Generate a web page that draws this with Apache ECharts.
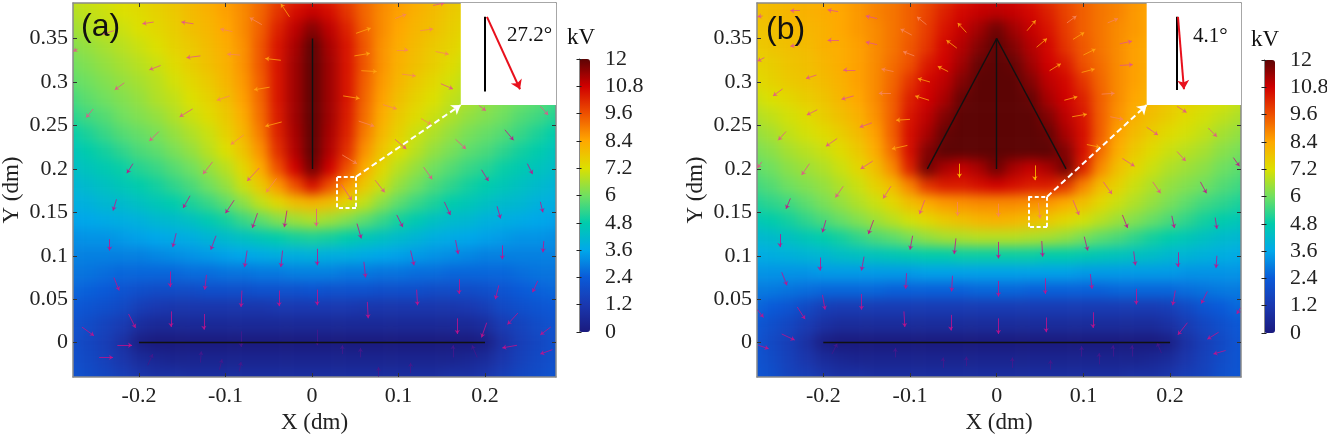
<!DOCTYPE html>
<html>

<head>
  <meta charset="UTF-8">
  <title>Potential maps (a) and (b)</title>
  <style>
    html, body { margin: 0; padding: 0; background: #fff; }
    #page { position: relative; width: 1327px; height: 435px; overflow: hidden; }
    .clip { position: absolute; top: 3px; height: 374px; overflow: hidden; }
    .field { position: absolute; top: -17px; width: 537px; height: 417px; filter: blur(6px); }
    #axes { position: absolute; left: 0; top: 0; width: 1327px; height: 435px; }
  </style>
  <script src="https://cdn.jsdelivr.net/npm/echarts@6/dist/echarts.min.js"></script>
</head>

<body>
  <div id="page">
    <div class="clip" style="left:73px;width:483px"><div class="field" id="field-a" style="left:-29px"></div></div>
    <div class="clip" style="left:757px;width:484px"><div class="field" id="field-b" style="left:-29px"></div></div>
    <div id="axes"></div>
  </div>

  <script>
    var FONT = '"Liberation Serif", serif';

    // cell centres of the potential grid, dm
    var fieldX = ['-0.30','-0.28','-0.26','-0.24','-0.22','-0.20','-0.18','-0.16','-0.14','-0.12','-0.10','-0.08','-0.06','-0.04','-0.02','0',
                  '0.02','0.04','0.06','0.08','0.10','0.12','0.14','0.16','0.18','0.20','0.22','0.24','0.26','0.28','0.30'];
    var fieldY = ['0.40','0.38','0.36','0.34','0.32','0.30','0.28','0.26','0.24','0.22','0.20','0.18','0.16','0.14','0.12','0.10',
                  '0.08','0.06','0.04','0.02','0','-0.02','-0.04','-0.06'];

    // potential in kV, one line per row from the top
    var fieldA = [
      [6.9,7.0,7.1,7.2,7.3,7.5,7.7,7.9,8.1,8.4,8.6,8.9,9.3,9.8,10.2,10.4,10.2,9.8,9.3,8.9,8.6,8.4,8.1,7.9,7.7,7.5,7.3,7.2,7.1,7.0,6.9],
      [6.6,6.7,6.9,7.0,7.2,7.3,7.5,7.7,8.0,8.2,8.5,8.8,9.3,10.0,10.6,10.9,10.6,10.0,9.3,8.8,8.5,8.2,8.0,7.7,7.5,7.3,7.2,7.0,6.9,6.7,6.6],
      [6.3,6.5,6.7,6.9,7.0,7.2,7.4,7.6,7.9,8.1,8.4,8.8,9.4,10.3,11.0,11.6,11.0,10.3,9.4,8.8,8.4,8.1,7.9,7.6,7.4,7.2,7.0,6.9,6.7,6.5,6.3],
      [6.0,6.2,6.4,6.6,6.8,7.0,7.2,7.5,7.7,8.0,8.3,8.7,9.5,10.5,11.2,12,11.2,10.5,9.5,8.7,8.3,8.0,7.7,7.5,7.2,7.0,6.8,6.6,6.4,6.2,6.0],
      [5.8,6.0,6.2,6.4,6.6,6.8,7.0,7.3,7.6,7.9,8.2,8.7,9.5,10.5,11.3,12,11.3,10.5,9.5,8.7,8.2,7.9,7.6,7.3,7.0,6.8,6.6,6.4,6.2,6.0,5.8],
      [5.6,5.8,6.0,6.2,6.4,6.6,6.8,7.1,7.4,7.7,8.1,8.6,9.4,10.5,11.3,12,11.3,10.5,9.4,8.6,8.1,7.7,7.4,7.1,6.8,6.6,6.4,6.2,6.0,5.8,5.6],
      [5.3,5.5,5.8,6.0,6.2,6.4,6.7,6.9,7.2,7.5,7.9,8.5,9.3,10.5,11.3,12,11.3,10.5,9.3,8.5,7.9,7.5,7.2,6.9,6.7,6.4,6.2,6.0,5.8,5.5,5.3],
      [5.0,5.2,5.5,5.7,6.0,6.2,6.4,6.7,7.0,7.3,7.7,8.3,9.2,10.4,11.3,12,11.3,10.4,9.2,8.3,7.7,7.3,7.0,6.7,6.4,6.2,6.0,5.7,5.5,5.2,5.0],
      [4.6,4.8,5.1,5.4,5.7,5.9,6.1,6.4,6.7,7.0,7.5,8.1,9.0,10.3,11.2,12,11.2,10.3,9.0,8.1,7.5,7.0,6.7,6.4,6.1,5.9,5.7,5.4,5.1,4.8,4.6],
      [4.3,4.5,4.8,5.0,5.3,5.6,5.8,6.1,6.4,6.8,7.2,7.8,8.7,10.1,11.1,12,11.1,10.1,8.7,7.8,7.2,6.8,6.4,6.1,5.8,5.6,5.3,5.0,4.8,4.5,4.3],
      [4.1,4.3,4.5,4.7,4.9,5.2,5.4,5.7,6.0,6.4,6.8,7.4,8.3,9.6,10.8,11.8,10.8,9.6,8.3,7.4,6.8,6.4,6.0,5.7,5.4,5.2,4.9,4.7,4.5,4.3,4.1],
      [3.9,4.0,4.2,4.4,4.6,4.8,5.0,5.3,5.6,6.0,6.4,7.0,7.7,8.6,9.6,10.6,9.6,8.6,7.7,7.0,6.4,6.0,5.6,5.3,5.0,4.8,4.6,4.4,4.2,4.0,3.9],
      [3.7,3.8,3.9,4.1,4.2,4.4,4.6,4.8,5.1,5.4,5.8,6.3,6.9,7.4,7.9,8.1,7.9,7.4,6.9,6.3,5.8,5.4,5.1,4.8,4.6,4.4,4.2,4.1,3.9,3.8,3.7],
      [3.4,3.5,3.6,3.7,3.8,3.9,4.1,4.2,4.4,4.7,5.0,5.4,5.8,6.2,6.5,6.7,6.5,6.2,5.8,5.4,5.0,4.7,4.4,4.2,4.1,3.9,3.8,3.7,3.6,3.5,3.4],
      [3.2,3.2,3.3,3.3,3.4,3.5,3.6,3.7,3.8,4.0,4.2,4.4,4.6,4.8,5.0,5.1,5.0,4.8,4.6,4.4,4.2,4.0,3.8,3.7,3.6,3.5,3.4,3.3,3.3,3.2,3.2],
      [3.0,3.0,3.0,3.0,3.0,3.0,3.1,3.2,3.3,3.4,3.5,3.6,3.7,3.8,3.8,3.9,3.8,3.8,3.7,3.6,3.5,3.4,3.3,3.2,3.1,3.0,3.0,3.0,3.0,3.0,3.0],
      [2.8,2.8,2.8,2.7,2.6,2.6,2.6,2.6,2.7,2.7,2.8,2.8,2.9,2.9,3.0,3.0,3.0,2.9,2.9,2.8,2.8,2.7,2.7,2.6,2.6,2.6,2.6,2.7,2.8,2.8,2.8],
      [2.6,2.6,2.5,2.4,2.2,2.0,1.9,1.9,1.9,2.0,2.0,2.0,2.1,2.1,2.1,2.2,2.1,2.1,2.1,2.0,2.0,2.0,1.9,1.9,1.9,2.0,2.2,2.4,2.5,2.6,2.6],
      [2.4,2.3,2.2,2.0,1.8,1.4,1.2,1.1,1.1,1.1,1.1,1.1,1.1,1.2,1.2,1.2,1.2,1.2,1.1,1.1,1.1,1.1,1.1,1.1,1.2,1.4,1.8,2.0,2.2,2.3,2.4],
      [2.2,2.1,1.9,1.6,1.3,0.8,0.6,0.6,0.6,0.6,0.6,0.6,0.6,0.6,0.6,0.6,0.6,0.6,0.6,0.6,0.6,0.6,0.6,0.6,0.6,0.8,1.3,1.6,1.9,2.1,2.2],
      [2.1,2.0,1.7,1.4,0.9,0.2,0,0,0,0,0,0,0,0,0,0,0,0,0,0,0,0,0,0,0,0.2,0.9,1.4,1.7,2.0,2.1],
      [2.1,2.0,1.8,1.5,1.1,0.7,0.5,0.4,0.4,0.4,0.4,0.4,0.4,0.4,0.4,0.4,0.4,0.4,0.4,0.4,0.4,0.4,0.4,0.4,0.5,0.7,1.1,1.5,1.8,2.0,2.1],
      [2.2,2.1,1.9,1.7,1.4,1.1,0.9,0.9,0.8,0.8,0.8,0.8,0.8,0.8,0.8,0.8,0.8,0.8,0.8,0.8,0.8,0.8,0.8,0.9,0.9,1.1,1.4,1.7,1.9,2.1,2.2],
      [2.3,2.2,2.0,1.9,1.7,1.4,1.3,1.2,1.2,1.2,1.2,1.2,1.2,1.2,1.2,1.2,1.2,1.2,1.2,1.2,1.2,1.2,1.2,1.2,1.3,1.4,1.7,1.9,2.0,2.2,2.3]
    ];
    var fieldB = [
      [7.9,8.0,8.0,8.1,8.2,8.3,8.5,8.7,8.9,9.1,9.4,9.7,10.0,10.4,10.7,10.8,10.7,10.4,10.0,9.7,9.4,9.1,8.9,8.7,8.5,8.3,8.2,8.1,8.0,8.0,7.9],
      [7.8,7.9,8.0,8.1,8.2,8.3,8.4,8.6,8.9,9.1,9.4,9.8,10.3,10.7,10.9,11.0,10.9,10.7,10.3,9.8,9.4,9.1,8.9,8.6,8.4,8.3,8.2,8.1,8.0,7.9,7.8],
      [7.7,7.8,7.9,8.0,8.1,8.2,8.4,8.6,8.8,9.1,9.4,9.9,10.5,10.9,11.3,11.8,11.3,10.9,10.5,9.9,9.4,9.1,8.8,8.6,8.4,8.2,8.1,8.0,7.9,7.8,7.7],
      [7.6,7.7,7.8,7.9,8.0,8.2,8.3,8.5,8.8,9.1,9.5,10.0,10.7,11.1,11.6,12,11.6,11.1,10.7,10.0,9.5,9.1,8.8,8.5,8.3,8.2,8.0,7.9,7.8,7.7,7.6],
      [7.4,7.5,7.6,7.8,7.9,8.1,8.3,8.5,8.8,9.2,9.6,10.4,10.8,11.3,11.9,12,11.9,11.3,10.8,10.4,9.6,9.2,8.8,8.5,8.3,8.1,7.9,7.8,7.6,7.5,7.4],
      [7.1,7.3,7.5,7.7,7.8,8.0,8.2,8.5,8.8,9.3,10.0,10.7,11.0,11.6,12,12,12,11.6,11.0,10.7,10.0,9.3,8.8,8.5,8.2,8.0,7.8,7.7,7.5,7.3,7.1],
      [6.8,7.0,7.2,7.4,7.6,7.8,8.1,8.4,8.8,9.4,10.3,10.8,11.2,11.9,12,12,12,11.9,11.2,10.8,10.3,9.4,8.8,8.4,8.1,7.8,7.6,7.4,7.2,7.0,6.8],
      [6.5,6.7,6.9,7.1,7.3,7.6,7.9,8.2,8.7,9.4,10.5,11.0,11.6,12,12,12,12,12,11.6,11.0,10.5,9.4,8.7,8.2,7.9,7.6,7.3,7.1,6.9,6.7,6.5],
      [6.2,6.4,6.6,6.9,7.1,7.3,7.6,8.0,8.5,9.4,10.6,11.2,11.9,12,12,12,12,12,11.9,11.2,10.6,9.4,8.5,8.0,7.6,7.3,7.1,6.9,6.6,6.4,6.2],
      [5.9,6.1,6.3,6.6,6.8,7.0,7.3,7.7,8.3,9.2,10.6,11.6,12,12,12,12,12,12,12,11.6,10.6,9.2,8.3,7.7,7.3,7.0,6.8,6.6,6.3,6.1,5.9],
      [5.6,5.8,6.0,6.3,6.5,6.7,7.0,7.4,7.9,8.8,10.3,11.8,11.2,10.9,11.2,11.8,11.2,10.9,11.2,11.8,10.3,8.8,7.9,7.4,7.0,6.7,6.5,6.3,6.0,5.8,5.6],
      [5.2,5.5,5.7,6.0,6.2,6.4,6.7,7.0,7.5,8.0,8.9,10.0,10.4,10.4,10.6,10.8,10.6,10.4,10.4,10.0,8.9,8.0,7.5,7.0,6.7,6.4,6.2,6.0,5.7,5.5,5.2],
      [4.9,5.1,5.3,5.5,5.8,6.1,6.4,6.7,7.0,7.4,7.9,8.3,8.6,8.7,8.8,8.8,8.8,8.7,8.6,8.3,7.9,7.4,7.0,6.7,6.4,6.1,5.8,5.5,5.3,5.1,4.9],
      [4.5,4.6,4.8,5.0,5.3,5.6,5.9,6.2,6.5,6.8,7.1,7.4,7.7,7.9,8.1,8.2,8.1,7.9,7.7,7.4,7.1,6.8,6.5,6.2,5.9,5.6,5.3,5.0,4.8,4.6,4.5],
      [4.0,4.1,4.2,4.4,4.6,4.8,5.0,5.3,5.6,5.8,6.1,6.4,6.6,6.7,6.8,6.8,6.8,6.7,6.6,6.4,6.1,5.8,5.6,5.3,5.0,4.8,4.6,4.4,4.2,4.1,4.0],
      [3.6,3.7,3.8,3.9,4.0,4.1,4.3,4.4,4.5,4.6,4.7,4.8,4.8,4.9,4.9,4.9,4.9,4.9,4.8,4.8,4.7,4.6,4.5,4.4,4.3,4.1,4.0,3.9,3.8,3.7,3.6],
      [3.3,3.3,3.3,3.3,3.3,3.4,3.4,3.4,3.4,3.4,3.4,3.5,3.5,3.5,3.5,3.5,3.5,3.5,3.5,3.5,3.4,3.4,3.4,3.4,3.4,3.4,3.3,3.3,3.3,3.3,3.3],
      [3.0,2.9,2.9,2.8,2.7,2.6,2.6,2.6,2.6,2.5,2.5,2.5,2.5,2.5,2.6,2.6,2.6,2.5,2.5,2.5,2.5,2.5,2.6,2.6,2.6,2.6,2.7,2.8,2.9,2.9,3.0],
      [2.7,2.6,2.4,2.2,1.8,1.4,1.3,1.3,1.3,1.3,1.3,1.3,1.3,1.3,1.3,1.3,1.3,1.3,1.3,1.3,1.3,1.3,1.3,1.3,1.3,1.4,1.8,2.2,2.4,2.6,2.7],
      [2.4,2.3,2.0,1.7,1.3,0.9,0.7,0.7,0.7,0.7,0.7,0.7,0.7,0.7,0.7,0.7,0.7,0.7,0.7,0.7,0.7,0.7,0.7,0.7,0.7,0.9,1.3,1.7,2.0,2.3,2.4],
      [2.3,2.2,1.8,1.4,0.9,0.2,0,0,0,0,0,0,0,0,0,0,0,0,0,0,0,0,0,0,0,0.2,0.9,1.4,1.8,2.2,2.3],
      [2.3,2.2,1.9,1.5,1.1,0.7,0.5,0.4,0.4,0.4,0.4,0.4,0.4,0.4,0.4,0.4,0.4,0.4,0.4,0.4,0.4,0.4,0.4,0.4,0.5,0.7,1.1,1.5,1.9,2.2,2.3],
      [2.4,2.2,2.0,1.6,1.4,1.1,0.9,0.9,0.8,0.8,0.8,0.8,0.8,0.8,0.8,0.8,0.8,0.8,0.8,0.8,0.8,0.8,0.8,0.9,0.9,1.1,1.4,1.6,2.0,2.2,2.4],
      [2.4,2.3,2.1,1.9,1.7,1.4,1.3,1.2,1.2,1.2,1.2,1.2,1.2,1.2,1.2,1.2,1.2,1.2,1.2,1.2,1.2,1.2,1.2,1.2,1.3,1.4,1.7,1.9,2.1,2.3,2.4]
    ];

    // field arrows: tail x, tail y, head x, head y (dm), colour class
    var arrowsA = [
      [-.026,.375,-.036,.390,4],[-.058,.366,-.072,.374,3],[-.092,.358,-.106,.361,3],[-.137,.367,-.151,.369,2],[-.183,.369,-.196,.367,2],
      [-.229,.359,-.242,.355,2],[-.271,.338,-.276,.335,2],[-.036,.325,-.054,.327,4],[-.083,.331,-.098,.332,3],[-.129,.330,-.145,.328,2],
      [-.175,.319,-.188,.314,2],[-.217,.299,-.228,.291,2],[-.049,.294,-.067,.291,4],[-.095,.284,-.110,.279,3],[-.138,.269,-.153,.260,2],
      [-.253,.269,-.261,.259,2],[-.035,.254,-.054,.249,4],[-.079,.239,-.094,.228,3],[-.177,.243,-.188,.232,2],[-.207,.206,-.214,.195,1],
      [-.115,.208,-.126,.194,2],[-.061,.201,-.075,.186,2],[-.041,.189,-.053,.173,3],[-.226,.165,-.230,.152,1],[-.141,.169,-.149,.155,1],
      [-.090,.164,-.100,.149,1],[-.063,.149,-.069,.132,1],[-.029,.152,-.032,.133,1],[.005,.154,.005,.134,2],[-.234,.119,-.234,.106,1],
      [-.157,.126,-.161,.110,1],[-.111,.123,-.117,.107,1],[-.075,.106,-.078,.087,1],[-.034,.106,-.036,.087,1],[.006,.108,.006,.089,1],
      [-.229,.075,-.223,.060,1],[-.164,.082,-.164,.064,1],[-.122,.078,-.124,.061,1],[-.081,.060,-.082,.041,1],[-.038,.060,-.038,.042,1],
      [.006,.061,.006,.043,1],[-.212,.033,-.204,.017,1],[-.163,.036,-.163,.018,1],[-.125,.033,-.125,.015,1],[-.266,.018,-.252,.008,1],
      [-.225,-.003,-.208,-.003,1],[-.246,-.017,-.230,-.017,1],[-.082,.013,-.082,-.005,0],[.006,.015,.006,-.003,0],[-.190,-.026,-.184,-.013,0],
      [-.129,-.023,-.128,-.010,0],[-.107,-.031,-.104,-.019,0],[-.084,-.033,-.082,-.022,0],
      [.051,.356,.068,.362,4],[.096,.373,.109,.378,3],[.140,.388,.153,.391,2],[.125,.359,.140,.361,3],[.049,.330,.067,.333,4],
      [.098,.337,.111,.337,3],[.143,.335,.158,.332,3],[.057,.313,.075,.312,4],[.104,.309,.120,.307,3],[.149,.298,.163,.292,2],
      [.036,.284,.055,.281,4],[.082,.274,.098,.269,3],[.193,.273,.201,.267,2],[.264,.272,.273,.262,2],[.054,.255,.072,.249,3],
      [.126,.258,.138,.251,3],[.096,.234,.109,.223,2],[.166,.234,.178,.223,2],[.223,.245,.233,.233,1],[.035,.216,.052,.206,3],
      [.129,.202,.139,.188,2],[.196,.199,.204,.186,1],[.249,.206,.255,.194,1],[.073,.187,.084,.173,2],[.034,.182,.046,.164,2],
      [.153,.162,.160,.147,1],[.214,.157,.218,.143,1],[.264,.162,.267,.150,1],[.052,.137,.057,.120,1],[.098,.147,.105,.133,1],
      [.166,.118,.169,.102,1],[.220,.112,.220,.096,1],[.268,.117,.267,.104,1],[.060,.093,.062,.075,1],[.114,.106,.118,.089,1],
      [.170,.073,.170,.056,1],[.216,.066,.212,.050,1],[.261,.071,.255,.058,1],[.121,.061,.122,.043,1],[.064,.047,.065,.028,1],
      [.168,.028,.168,.010,1],[.202,.023,.196,.006,1],[.238,.034,.226,.021,1],[.276,.018,.264,.009,1],[.237,-.003,.220,-.006,1],
      [.278,-.008,.264,-.013,1],[.035,-.013,.035,-.003,0],[.056,-.017,.056,-.006,0],[.163,-.017,.163,-.003,0],[.191,-.017,.185,-.003,0],
      [.077,-.039,.077,-.028,0],[.114,-.035,.114,-.023,0]
    ];
    var arrowsB = [
      [-.035,.357,-.045,.368,4],[-.046,.339,-.058,.348,4],[-.056,.312,-.068,.318,4],[-.077,.300,-.091,.304,4],[-.078,.279,-.094,.284,4],
      [-.100,.257,-.116,.256,4],[-.103,.227,-.121,.223,4],[-.043,.206,-.043,.190,5],[-.081,.366,-.092,.375,3],[-.098,.354,-.111,.361,3],
      [-.095,.330,-.108,.335,3],[-.119,.312,-.133,.315,3],[-.122,.287,-.136,.287,3],[-.138,.373,-.151,.376,2],[-.138,.343,-.151,.346,2],
      [-.163,.314,-.177,.314,2],[-.165,.284,-.179,.280,2],[-.144,.253,-.158,.248,2],[-.143,.209,-.157,.200,2],[-.183,.381,-.195,.383,2],
      [-.182,.348,-.195,.348,2],[-.208,.308,-.220,.304,2],[-.207,.268,-.219,.262,2],[-.184,.235,-.197,.226,2],[-.177,.180,-.186,.167,2],
      [-.122,.180,-.131,.166,2],[-.227,.382,-.238,.382,2],[-.227,.343,-.238,.341,2],[-.270,.376,-.276,.375,2],[-.268,.328,-.276,.324,2],
      [-.247,.292,-.258,.284,2],[-.243,.243,-.252,.233,2],[-.216,.206,-.225,.193,2],[-.271,.208,-.276,.201,2],[-.238,.166,-.243,.154,1],
      [-.083,.164,-.089,.148,2],[-.045,.162,-.045,.146,3],[.002,.160,.002,.145,3],[-.197,.141,-.201,.127,1],[-.142,.141,-.148,.125,1],
      [-.250,.125,-.250,.110,1],[-.097,.123,-.100,.107,1],[-.047,.120,-.049,.102,1],[.002,.116,.002,.097,1],[-.204,.098,-.204,.083,1],
      [-.153,.099,-.156,.083,1],[-.248,.081,-.242,.066,1],[-.104,.080,-.105,.062,1],[-.051,.077,-.052,.059,1],[.002,.071,.002,.053,1],
      [-.201,.055,-.198,.038,1],[-.156,.056,-.156,.038,1],[-.230,.041,-.221,.027,1],[-.276,.038,-.269,.029,1],[-.107,.036,-.106,.018,1],
      [-.053,.032,-.053,.014,1],[.002,.028,.002,.010,1],[-.248,.010,-.233,.003,1],[-.275,-.003,-.263,-.007,1],[-.190,-.013,-.184,-.001,0],
      [-.117,-.017,-.117,-.006,0],[-.062,-.029,-.062,-.017,0],[-.035,-.027,-.035,-.016,0],
      [.035,.359,.045,.371,4],[.046,.340,.058,.350,4],[.081,.368,.092,.376,3],[.088,.349,.101,.357,4],[.100,.331,.114,.338,4],
      [.061,.313,.074,.321,4],[.098,.311,.113,.315,4],[.128,.368,.140,.373,3],[.142,.344,.156,.347,2],[.142,.319,.157,.320,2],
      [.078,.279,.093,.283,4],[.121,.286,.136,.287,3],[.087,.260,.104,.263,4],[.131,.260,.146,.257,3],[.104,.228,.119,.225,4],
      [.044,.204,.044,.187,5],[.145,.212,.159,.203,2],[.173,.248,.186,.239,2],[.208,.272,.219,.265,2],[.244,.247,.254,.237,2],
      [.208,.220,.218,.209,2],[.273,.213,.280,.203,1],[.123,.185,.133,.171,2],[.180,.185,.189,.172,2],[.235,.185,.242,.172,1],
      [.088,.164,.095,.147,2],[.048,.161,.050,.143,3],[.145,.147,.151,.132,1],[.202,.146,.205,.132,1],[.252,.144,.254,.131,1],
      [.052,.117,.053,.099,1],[.101,.122,.105,.106,1],[.158,.105,.160,.089,1],[.209,.104,.209,.087,1],[.254,.100,.253,.086,1],
      [.056,.074,.056,.056,1],[.108,.079,.110,.062,1],[.161,.062,.161,.044,1],[.206,.060,.203,.043,1],[.243,.059,.236,.045,1],
      [.281,.040,.277,.033,1],[.057,.029,.057,.012,1],[.111,.035,.111,.017,1],[.220,.023,.209,.009,1],[.256,.012,.243,.004,1],
      [.264,-.009,.250,-.013,1],[.098,-.016,.098,-.004,0],[.118,-.025,.118,-.012,0],[.134,-.016,.134,-.003,0],[.156,-.016,.156,-.003,0],
      [.190,-.012,.185,0,0],[.062,-.031,.062,-.020,0],[.018,-.029,.018,-.017,0]
    ];
    var arrowColors = ['#46188c', '#c4108c', '#e4558c', '#f6865c', '#ffa412', '#ffc400'];

    // electrodes, as line segments in dm
    var electrodesA = [[0, .35, 0, .2], [-.2, 0, .2, 0]];
    var electrodesB = [[-.08, .2, 0, .35], [0, .35, .08, .2], [0, .35, 0, .2], [-.2, 0, .2, 0]];

    // zoomed inset in the top right corner
    var insetA = { box: [.172, .2735], stem: [.200, .375, .200, .289], tilt: [.2023, .375, .2405, .2916],
                   mark: [.0292, .191, .0509, .1558], link: [.0509, .191, .172, .2735] };
    var insetB = { box: [.173, .2735], stem: [.2076, .375, .2076, .2908], tilt: [.2091, .375, .216, .2916],
                   mark: [.0364, .168, .0581, .1335], link: [.0581, .168, .173, .2735] };

    var xTicks = [-0.2, -0.1, 0, 0.1, 0.2];
    var yTicks = [0, 0.05, 0.1, 0.15, 0.2, 0.25, 0.3, 0.35];
    var barTicks = [0, 1.2, 2.4, 3.6, 4.8, 6, 7.2, 8.4, 9.6, 10.8, 12];
    var barColors = ['#1a1a7e', '#1a38b0', '#0a5ad8', '#00a8ea', '#00ccac', '#70e060', '#dce000', '#ffa800', '#ee5000', '#d00000', '#5c0404'];

    function drawField(id, rows) {
      var chart = echarts.init(document.getElementById(id));
      var data = [];
      for (var r = 0; r < rows.length; r++) {
        for (var c = 0; c < rows[r].length; c++) {
          data.push([c, r, rows[r][c]]);
        }
      }
      chart.setOption({
        animation: false,
        grid: { left: 0, right: 0, top: 0, bottom: 0 },
        xAxis: { type: 'category', data: fieldX, show: false },
        yAxis: { type: 'category', data: fieldY, inverse: true, show: false },
        visualMap: { show: false, min: 0, max: 12, inRange: { color: barColors } },
        series: [{ type: 'heatmap', data: data, itemStyle: { borderWidth: 0 } }]
      });
    }
    drawField('field-a', fieldA);
    drawField('field-b', fieldB);

    function segments(list, color, width, type, head) {
      return {
        type: 'lines',
        coordinateSystem: 'cartesian2d',
        polyline: false,
        silent: true,
        symbol: ['none', head || 'none'],
        symbolSize: head ? 9 : 0,
        lineStyle: { color: color, width: width, type: type, opacity: 1, curveness: 0 },
        data: list.map(function (s) { return { coords: [[s[0], s[1]], [s[2], s[3]]] }; })
      };
    }

    function panelSeries(axisIndex, arrows, electrodes, inset, xMax, yMax) {
      var m = inset.mark;
      var arrowSeries = {
        type: 'lines',
        coordinateSystem: 'cartesian2d',
        silent: true,
        symbol: ['none', 'arrow'],
        symbolSize: 4,
        z: 4,
        data: arrows.map(function (a) {
          return {
            coords: [[a[0], a[1]], [a[2], a[3]]],
            lineStyle: { color: arrowColors[a[4]], width: 1, opacity: 0.8, curveness: 0 }
          };
        })
      };
      var box = {
        type: 'line',
        data: [],
        silent: true,
        z: 3,
        markArea: {
          silent: true,
          itemStyle: { color: '#fff', opacity: 1 },
          data: [[{ coord: [inset.box[0], inset.box[1]] }, { coord: [xMax, yMax] }]]
        }
      };
      var list = [
        arrowSeries,
        box,
        segments(electrodes, '#111', 1.4, 'solid'),
        segments([inset.stem], '#000', 2, 'solid'),
        segments([inset.tilt], '#e8101c', 2, 'solid', 'arrow'),
        segments([[m[0], m[1], m[2], m[1]], [m[2], m[1], m[2], m[3]], [m[2], m[3], m[0], m[3]], [m[0], m[3], m[0], m[1]]], '#fff', 2, [4, 2.5]),
        segments([inset.link], '#fff', 2, [6, 3.5], 'arrow')
      ];
      list.forEach(function (s, i) {
        s.xAxisIndex = axisIndex;
        s.yAxisIndex = axisIndex;
        if (i > 1) { s.z = 5; }
      });
      return list;
    }

    function frameAxis(gridIndex, position, min, max, ticks, name, nameGap, margin, withLabels) {
      return {
        type: 'value',
        gridIndex: gridIndex,
        position: position,
        min: min,
        max: max,
        name: withLabels ? name : '',
        nameLocation: 'middle',
        nameGap: nameGap,
        nameTextStyle: { fontFamily: FONT, fontSize: 23, color: '#222' },
        splitLine: { show: false },
        axisLine: { show: true, onZero: false, lineStyle: { color: '#8a8a8a', width: 1.5 } },
        axisTick: { show: true, inside: true, length: 4, customValues: ticks, lineStyle: { color: '#333', width: 1 } },
        axisLabel: {
          show: withLabels,
          customValues: ticks,
          margin: margin,
          fontFamily: FONT,
          fontSize: 22,
          color: '#222'
        }
      };
    }

    function barAxis(gridIndex, position, withLabels) {
      return {
        type: 'value',
        gridIndex: gridIndex,
        position: position,
        min: 0,
        max: 12,
        z: 6,
        splitLine: { show: false },
        axisLine: { show: true, lineStyle: { color: '#8a8a8a', width: 1 } },
        axisTick: { show: true, inside: true, length: 2.5, customValues: barTicks, lineStyle: { color: '#222', width: 1 } },
        axisLabel: {
          show: withLabels,
          customValues: barTicks,
          margin: 15,
          fontFamily: FONT,
          fontSize: 22,
          color: '#222'
        }
      };
    }

    function plainBar(left, top) {
      return {
        type: 'continuous',
        seriesIndex: [],
        min: 0,
        max: 12,
        left: left,
        top: top,
        itemWidth: 11,
        itemHeight: 273,
        padding: 0,
        text: ['', ''],
        calculable: false,
        silent: true,
        inRange: { color: barColors }
      };
    }

    function label(text, x, y, size, family) {
      return {
        type: 'text',
        left: x,
        top: y,
        silent: true,
        z: 20,
        style: { text: text, fontFamily: family || FONT, fontSize: size, fill: '#111' }
      };
    }

    var xRangeA = [-0.2763, 0.2821];
    var xRangeB = [-0.2765, 0.2818];
    var yRange = [-0.0395, 0.3909];

    var axes = echarts.init(document.getElementById('axes'));
    axes.setOption({
      animation: false,
      backgroundColor: 'transparent',
      grid: [
        { left: 73, top: 3, width: 483, height: 374, outerBoundsMode: 'none' },
        { left: 757, top: 3, width: 484, height: 374, outerBoundsMode: 'none' },
        { left: 579, top: 59, width: 11, height: 273, outerBoundsMode: 'none' },
        { left: 1264, top: 60, width: 11, height: 273, outerBoundsMode: 'none' }
      ],
      xAxis: [
        frameAxis(0, 'bottom', xRangeA[0], xRangeA[1], xTicks, 'X (dm)', 33, 8, true),
        frameAxis(0, 'top', xRangeA[0], xRangeA[1], xTicks, '', 0, 8, false),
        frameAxis(1, 'bottom', xRangeB[0], xRangeB[1], xTicks, 'X (dm)', 33, 8, true),
        frameAxis(1, 'top', xRangeB[0], xRangeB[1], xTicks, '', 0, 8, false),
        { type: 'value', gridIndex: 2, show: false },
        { type: 'value', gridIndex: 3, show: false }
      ],
      yAxis: [
        frameAxis(0, 'left', yRange[0], yRange[1], yTicks, 'Y (dm)', 50, 5, true),
        frameAxis(0, 'right', yRange[0], yRange[1], yTicks, '', 0, 5, false),
        frameAxis(1, 'left', yRange[0], yRange[1], yTicks, 'Y (dm)', 50, 5, true),
        frameAxis(1, 'right', yRange[0], yRange[1], yTicks, '', 0, 5, false),
        barAxis(2, 'right', true),
        barAxis(2, 'left', false),
        barAxis(3, 'right', true),
        barAxis(3, 'left', false)
      ],
      visualMap: [plainBar(579, 59), plainBar(1264, 60)],
      graphic: [
        label('(a)', 81, 11, 32, '"Liberation Sans", sans-serif'),
        label('(b)', 766, 14, 32, '"Liberation Sans", sans-serif'),
        label('27.2°', 507, 25, 21),
        label('4.1°', 1193, 26, 21),
        label('kV', 567, 26, 23),
        label('kV', 1251, 28, 23)
      ],
      series: panelSeries(0, arrowsA, electrodesA, insetA, xRangeA[1], yRange[1])
        .concat(panelSeries(2, arrowsB, electrodesB, insetB, xRangeB[1], yRange[1]))
    });
  </script>
</body>

</html>
